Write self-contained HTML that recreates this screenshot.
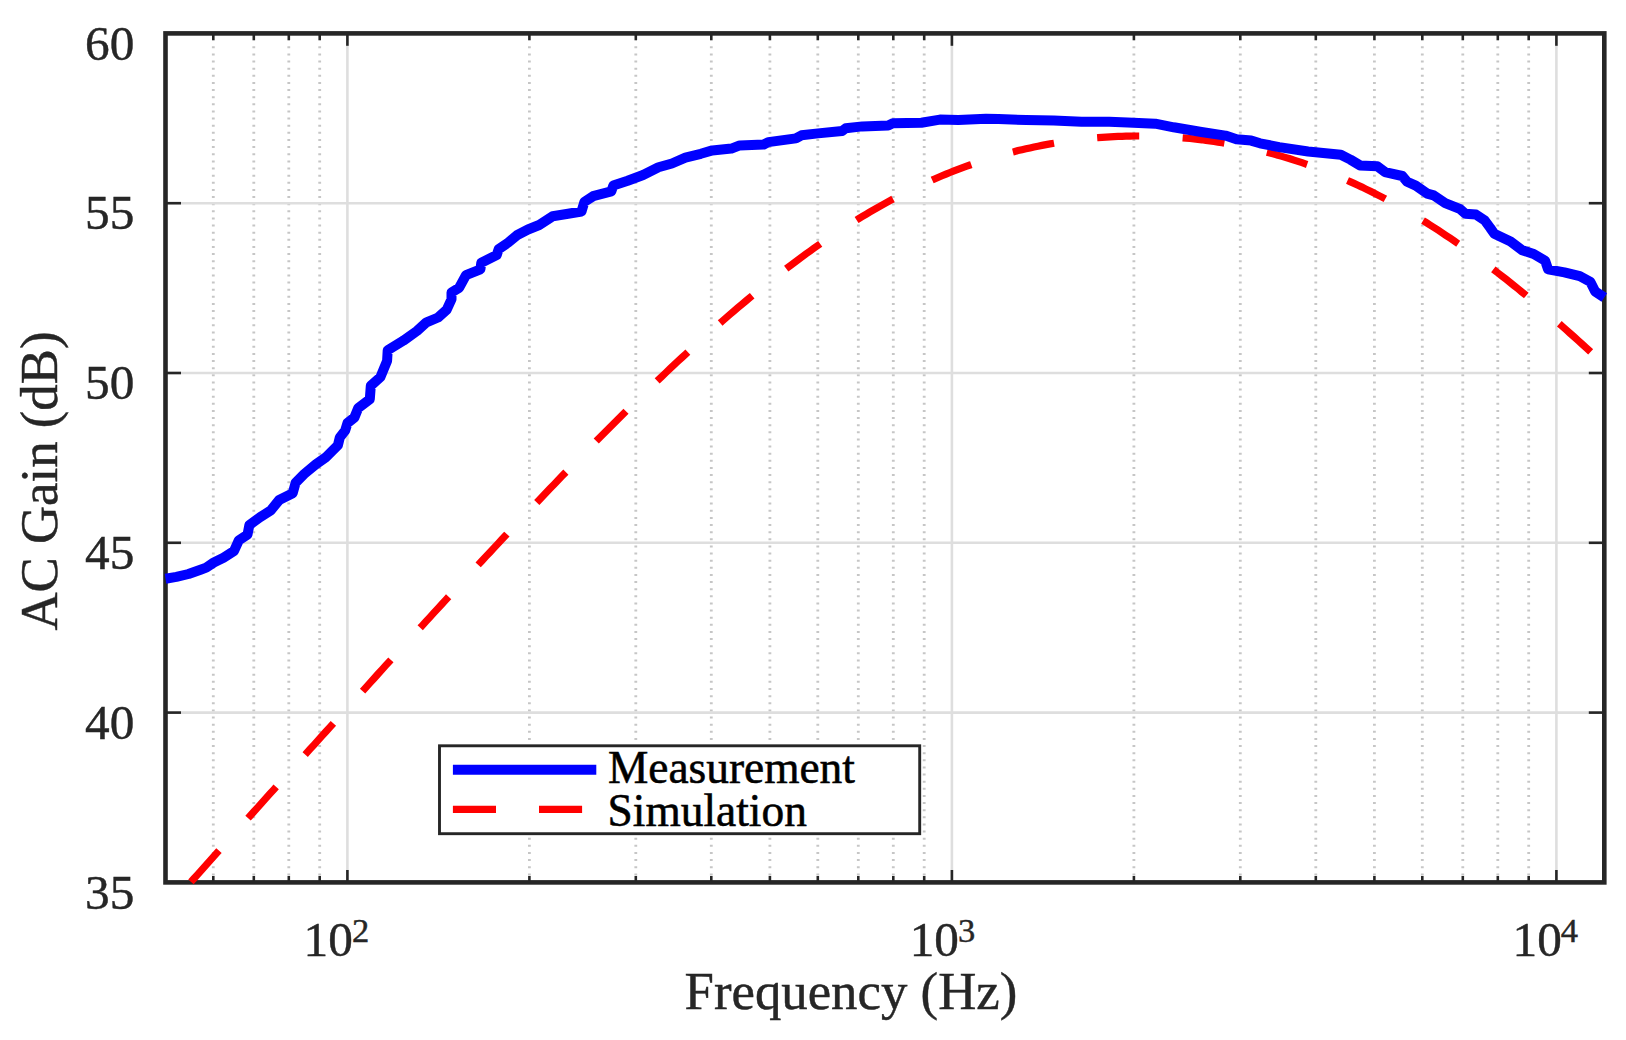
<!DOCTYPE html>
<html lang="en"><head><meta charset="utf-8"><title>AC Gain vs Frequency</title>
<style>html,body{margin:0;padding:0;background:#fff;}body{width:1626px;height:1040px;overflow:hidden;}svg{display:block;}text{font-family:"Liberation Serif","Times New Roman",serif;fill:#262626;stroke:#262626;stroke-width:0.45px;font-kerning:none;}</style></head><body>
<svg width="1626" height="1040" viewBox="0 0 1626 1040">
<rect width="1626" height="1040" fill="#fff"/>
<g stroke="#c6c6c6" stroke-width="2.8" stroke-dasharray="2 5.13" fill="none">
<line x1="213.3" y1="46.3" x2="213.3" y2="880.4"/>
<line x1="253.8" y1="46.3" x2="253.8" y2="880.4"/>
<line x1="288.8" y1="46.3" x2="288.8" y2="880.4"/>
<line x1="319.7" y1="46.3" x2="319.7" y2="880.4"/>
<line x1="529.4" y1="46.3" x2="529.4" y2="880.4"/>
<line x1="635.8" y1="46.3" x2="635.8" y2="880.4"/>
<line x1="711.3" y1="46.3" x2="711.3" y2="880.4"/>
<line x1="769.9" y1="46.3" x2="769.9" y2="880.4"/>
<line x1="817.8" y1="46.3" x2="817.8" y2="880.4"/>
<line x1="858.3" y1="46.3" x2="858.3" y2="880.4"/>
<line x1="893.3" y1="46.3" x2="893.3" y2="880.4"/>
<line x1="924.2" y1="46.3" x2="924.2" y2="880.4"/>
<line x1="1133.9" y1="46.3" x2="1133.9" y2="880.4"/>
<line x1="1240.3" y1="46.3" x2="1240.3" y2="880.4"/>
<line x1="1315.8" y1="46.3" x2="1315.8" y2="880.4"/>
<line x1="1374.4" y1="46.3" x2="1374.4" y2="880.4"/>
<line x1="1422.3" y1="46.3" x2="1422.3" y2="880.4"/>
<line x1="1462.8" y1="46.3" x2="1462.8" y2="880.4"/>
<line x1="1497.8" y1="46.3" x2="1497.8" y2="880.4"/>
<line x1="1528.7" y1="46.3" x2="1528.7" y2="880.4"/>
</g>
<g stroke="#dedede" stroke-width="2.6" fill="none">
<line x1="347.4" y1="33.4" x2="347.4" y2="882.4"/>
<line x1="951.9" y1="33.4" x2="951.9" y2="882.4"/>
<line x1="1556.4" y1="33.4" x2="1556.4" y2="882.4"/>
<line x1="165.5" y1="712.6" x2="1604.3" y2="712.6"/>
<line x1="165.5" y1="542.8" x2="1604.3" y2="542.8"/>
<line x1="165.5" y1="373.0" x2="1604.3" y2="373.0"/>
<line x1="165.5" y1="203.2" x2="1604.3" y2="203.2"/>
</g>
<g stroke="#262626" stroke-width="2.6" fill="none">
<line x1="213.3" y1="882.4" x2="213.3" y2="876.0"/>
<line x1="213.3" y1="33.4" x2="213.3" y2="40.3"/>
<line x1="253.8" y1="882.4" x2="253.8" y2="876.0"/>
<line x1="253.8" y1="33.4" x2="253.8" y2="40.3"/>
<line x1="288.8" y1="882.4" x2="288.8" y2="876.0"/>
<line x1="288.8" y1="33.4" x2="288.8" y2="40.3"/>
<line x1="319.7" y1="882.4" x2="319.7" y2="876.0"/>
<line x1="319.7" y1="33.4" x2="319.7" y2="40.3"/>
<line x1="529.4" y1="882.4" x2="529.4" y2="876.0"/>
<line x1="529.4" y1="33.4" x2="529.4" y2="40.3"/>
<line x1="635.8" y1="882.4" x2="635.8" y2="876.0"/>
<line x1="635.8" y1="33.4" x2="635.8" y2="40.3"/>
<line x1="711.3" y1="882.4" x2="711.3" y2="876.0"/>
<line x1="711.3" y1="33.4" x2="711.3" y2="40.3"/>
<line x1="769.9" y1="882.4" x2="769.9" y2="876.0"/>
<line x1="769.9" y1="33.4" x2="769.9" y2="40.3"/>
<line x1="817.8" y1="882.4" x2="817.8" y2="876.0"/>
<line x1="817.8" y1="33.4" x2="817.8" y2="40.3"/>
<line x1="858.3" y1="882.4" x2="858.3" y2="876.0"/>
<line x1="858.3" y1="33.4" x2="858.3" y2="40.3"/>
<line x1="893.3" y1="882.4" x2="893.3" y2="876.0"/>
<line x1="893.3" y1="33.4" x2="893.3" y2="40.3"/>
<line x1="924.2" y1="882.4" x2="924.2" y2="876.0"/>
<line x1="924.2" y1="33.4" x2="924.2" y2="40.3"/>
<line x1="1133.9" y1="882.4" x2="1133.9" y2="876.0"/>
<line x1="1133.9" y1="33.4" x2="1133.9" y2="40.3"/>
<line x1="1240.3" y1="882.4" x2="1240.3" y2="876.0"/>
<line x1="1240.3" y1="33.4" x2="1240.3" y2="40.3"/>
<line x1="1315.8" y1="882.4" x2="1315.8" y2="876.0"/>
<line x1="1315.8" y1="33.4" x2="1315.8" y2="40.3"/>
<line x1="1374.4" y1="882.4" x2="1374.4" y2="876.0"/>
<line x1="1374.4" y1="33.4" x2="1374.4" y2="40.3"/>
<line x1="1422.3" y1="882.4" x2="1422.3" y2="876.0"/>
<line x1="1422.3" y1="33.4" x2="1422.3" y2="40.3"/>
<line x1="1462.8" y1="882.4" x2="1462.8" y2="876.0"/>
<line x1="1462.8" y1="33.4" x2="1462.8" y2="40.3"/>
<line x1="1497.8" y1="882.4" x2="1497.8" y2="876.0"/>
<line x1="1497.8" y1="33.4" x2="1497.8" y2="40.3"/>
<line x1="1528.7" y1="882.4" x2="1528.7" y2="876.0"/>
<line x1="1528.7" y1="33.4" x2="1528.7" y2="40.3"/>
<line x1="347.4" y1="882.4" x2="347.4" y2="870.0"/>
<line x1="347.4" y1="33.4" x2="347.4" y2="45.8"/>
<line x1="951.9" y1="882.4" x2="951.9" y2="870.0"/>
<line x1="951.9" y1="33.4" x2="951.9" y2="45.8"/>
<line x1="1556.4" y1="882.4" x2="1556.4" y2="870.0"/>
<line x1="1556.4" y1="33.4" x2="1556.4" y2="45.8"/>
<line x1="165.5" y1="712.6" x2="181.0" y2="712.6"/>
<line x1="1604.3" y1="712.6" x2="1588.8" y2="712.6"/>
<line x1="165.5" y1="542.8" x2="181.0" y2="542.8"/>
<line x1="1604.3" y1="542.8" x2="1588.8" y2="542.8"/>
<line x1="165.5" y1="373.0" x2="181.0" y2="373.0"/>
<line x1="1604.3" y1="373.0" x2="1588.8" y2="373.0"/>
<line x1="165.5" y1="203.2" x2="181.0" y2="203.2"/>
<line x1="1604.3" y1="203.2" x2="1588.8" y2="203.2"/>
</g>
<rect x="165.5" y="33.4" width="1438.8" height="849.0" fill="none" stroke="#262626" stroke-width="4.6"/>
<path d="M190.8,882.1 L194.0,878.5 L198.0,874.1 L202.0,869.6 L206.0,865.1 L210.0,860.7 L214.0,856.2 L218.0,851.7 L222.0,847.2 L226.0,842.8 L230.0,838.3 L234.0,833.9 L238.0,829.4 L242.0,824.9 L246.0,820.5 L250.0,816.0 L254.0,811.5 L258.0,807.1 L262.0,802.6 L266.0,798.2 L270.0,793.7 L274.0,789.3 L278.0,784.8 L282.0,780.4 L286.0,775.9 L290.0,771.5 L294.0,767.0 L298.0,762.6 L302.0,758.1 L306.0,753.7 L310.0,749.2 L314.0,744.8 L318.0,740.4 L322.0,735.9 L326.0,731.5 L330.0,727.1 L334.0,722.6 L338.0,718.2 L342.0,713.8 L346.0,709.4 L350.0,704.9 L354.0,700.5 L358.0,696.1 L362.0,691.7 L366.0,687.3 L370.0,682.9 L374.0,678.5 L378.0,674.0 L382.0,669.6 L386.0,665.2 L390.0,660.8 L394.0,656.5 L398.0,652.1 L402.0,647.7 L406.0,643.3 L410.0,638.9 L414.0,634.5 L418.0,630.2 L422.0,625.8 L426.0,621.4 L430.0,617.1 L434.0,612.7 L438.0,608.3 L442.0,604.0 L446.0,599.6 L450.0,595.3 L454.0,591.0 L458.0,586.6 L462.0,582.3 L466.0,578.0 L470.0,573.7 L474.0,569.4 L478.0,565.0 L482.0,560.7 L486.0,556.4 L490.0,552.2 L494.0,547.9 L498.0,543.6 L502.0,539.3 L506.0,535.1 L510.0,530.8 L514.0,526.5 L518.0,522.3 L522.0,518.1 L526.0,513.8 L530.0,509.6 L534.0,505.4 L538.0,501.2 L542.0,497.0 L546.0,492.8 L550.0,488.6 L554.0,484.5 L558.0,480.3 L562.0,476.1 L566.0,472.0 L570.0,467.9 L574.0,463.7 L578.0,459.6 L582.0,455.5 L586.0,451.4 L590.0,447.4 L594.0,443.3 L598.0,439.2 L602.0,435.2 L606.0,431.2 L610.0,427.2 L614.0,423.2 L618.0,419.2 L622.0,415.2 L626.0,411.2 L630.0,407.3 L634.0,403.3 L638.0,399.4 L642.0,395.5 L646.0,391.6 L650.0,387.8 L654.0,383.9 L658.0,380.1 L662.0,376.3 L666.0,372.5 L670.0,368.7 L674.0,364.9 L678.0,361.2 L682.0,357.5 L686.0,353.8 L690.0,350.1 L694.0,346.4 L698.0,342.8 L702.0,339.1 L706.0,335.5 L710.0,332.0 L714.0,328.4 L718.0,324.9 L722.0,321.4 L726.0,317.9 L730.0,314.4 L734.0,311.0 L738.0,307.6 L742.0,304.2 L746.0,300.9 L750.0,297.5 L754.0,294.2 L758.0,291.0 L762.0,287.7 L766.0,284.5 L770.0,281.3 L774.0,278.1 L778.0,275.0 L782.0,271.9 L786.0,268.8 L790.0,265.8 L794.0,262.8 L798.0,259.8 L802.0,256.9 L806.0,253.9 L810.0,251.1 L814.0,248.2 L818.0,245.4 L822.0,242.6 L826.0,239.9 L830.0,237.1 L834.0,234.5 L838.0,231.8 L842.0,229.2 L846.0,226.6 L850.0,224.1 L854.0,221.6 L858.0,219.1 L862.0,216.7 L866.0,214.3 L870.0,211.9 L874.0,209.6 L878.0,207.3 L882.0,205.1 L886.0,202.9 L890.0,200.7 L894.0,198.5 L898.0,196.4 L902.0,194.4 L906.0,192.3 L910.0,190.4 L914.0,188.4 L918.0,186.5 L922.0,184.6 L926.0,182.8 L930.0,181.0 L934.0,179.2 L938.0,177.5 L942.0,175.8 L946.0,174.1 L950.0,172.5 L954.0,170.9 L958.0,169.4 L962.0,167.9 L966.0,166.4 L970.0,165.0 L974.0,163.6 L978.0,162.3 L982.0,160.9 L986.0,159.6 L990.0,158.4 L994.0,157.2 L998.0,156.0 L1002.0,154.9 L1006.0,153.8 L1010.0,152.7 L1014.0,151.7 L1018.0,150.6 L1022.0,149.7 L1026.0,148.8 L1030.0,147.9 L1034.0,147.0 L1038.0,146.2 L1042.0,145.4 L1046.0,144.6 L1050.0,143.9 L1054.0,143.2 L1058.0,142.5 L1062.0,141.9 L1066.0,141.3 L1070.0,140.7 L1074.0,140.2 L1078.0,139.7 L1082.0,139.2 L1086.0,138.8 L1090.0,138.4 L1094.0,138.0 L1098.0,137.7 L1102.0,137.4 L1106.0,137.1 L1110.0,136.8 L1114.0,136.6 L1118.0,136.4 L1122.0,136.3 L1126.0,136.2 L1130.0,136.1 L1134.0,136.0 L1138.0,136.0 L1142.0,136.0 L1146.0,136.0 L1150.0,136.1 L1154.0,136.2 L1158.0,136.3 L1162.0,136.5 L1166.0,136.7 L1170.0,136.9 L1174.0,137.2 L1178.0,137.5 L1182.0,137.8 L1186.0,138.1 L1190.0,138.5 L1194.0,138.9 L1198.0,139.4 L1202.0,139.8 L1206.0,140.4 L1210.0,140.9 L1214.0,141.5 L1218.0,142.1 L1222.0,142.7 L1226.0,143.4 L1230.0,144.1 L1234.0,144.9 L1238.0,145.6 L1242.0,146.4 L1246.0,147.3 L1250.0,148.2 L1254.0,149.1 L1258.0,150.0 L1262.0,151.0 L1266.0,152.0 L1270.0,153.0 L1274.0,154.1 L1278.0,155.3 L1282.0,156.4 L1286.0,157.6 L1290.0,158.8 L1294.0,160.1 L1298.0,161.4 L1302.0,162.7 L1306.0,164.1 L1310.0,165.5 L1314.0,166.9 L1318.0,168.4 L1322.0,169.9 L1326.0,171.5 L1330.0,173.1 L1334.0,174.7 L1338.0,176.4 L1342.0,178.1 L1346.0,179.8 L1350.0,181.6 L1354.0,183.4 L1358.0,185.3 L1362.0,187.1 L1366.0,189.1 L1370.0,191.0 L1374.0,193.0 L1378.0,195.1 L1382.0,197.1 L1386.0,199.3 L1390.0,201.4 L1394.0,203.6 L1398.0,205.8 L1402.0,208.1 L1406.0,210.4 L1410.0,212.7 L1414.0,215.1 L1418.0,217.5 L1422.0,220.0 L1426.0,222.4 L1430.0,225.0 L1434.0,227.5 L1438.0,230.1 L1442.0,232.7 L1446.0,235.4 L1450.0,238.1 L1454.0,240.8 L1458.0,243.6 L1462.0,246.3 L1466.0,249.2 L1470.0,252.0 L1474.0,254.9 L1478.0,257.9 L1482.0,260.8 L1486.0,263.8 L1490.0,266.8 L1494.0,269.9 L1498.0,273.0 L1502.0,276.1 L1506.0,279.2 L1510.0,282.4 L1514.0,285.6 L1518.0,288.8 L1522.0,292.1 L1526.0,295.3 L1530.0,298.7 L1534.0,302.0 L1538.0,305.4 L1542.0,308.8 L1546.0,312.2 L1550.0,315.6 L1554.0,319.1 L1558.0,322.6 L1562.0,326.1 L1566.0,329.6 L1570.0,333.2 L1574.0,336.8 L1578.0,340.4 L1582.0,344.0 L1586.0,347.7 L1590.0,351.3 L1594.0,355.0 L1598.0,358.7 L1602.0,362.5 L1604.3,364.6" fill="none" stroke="#ff0000" stroke-width="7.2" stroke-dasharray="42.1 43.47" stroke-dashoffset="-0.2"/>
<path d="M165.5,578.7 L176.4,576.9 L188.5,574.0 L200.5,569.7 L206.2,567.6 L213.8,562.5 L223.5,557.7 L234.0,551.0 L238.8,540.4 L247.5,534.6 L249.4,525.0 L260.0,517.3 L270.6,510.6 L279.2,500.0 L292.7,493.3 L295.6,482.7 L304.2,474.0 L315.8,464.4 L325.4,457.7 L337.9,445.2 L339.8,437.5 L345.2,430.5 L347.5,423.0 L354.4,417.5 L358.3,407.9 L369.8,399.2 L370.8,385.8 L380.4,377.1 L387.1,360.8 L387.7,350.2 L403.5,340.6 L416.9,331.0 L426.5,322.3 L438.1,317.5 L446.7,309.8 L451.5,299.2 L451.5,292.5 L459.2,287.7 L466.0,275.2 L480.4,269.4 L481.3,262.7 L496.7,255.0 L498.7,249.2 L508.3,242.5 L516.9,235.3 L528.0,229.5 L539.2,225.0 L552.7,216.3 L568.1,213.8 L581.5,211.5 L584.4,201.9 L593.1,196.2 L611.3,191.3 L613.3,185.6 L627.7,180.8 L643.1,175.0 L658.5,167.3 L671.9,163.5 L685.4,157.7 L700.8,153.8 L712.3,150.4 L731.4,148.6 L739.7,145.4 L763.7,144.5 L768.3,142.1 L795.9,138.4 L801.5,135.3 L818.1,133.4 L842.1,131.0 L845.8,128.3 L862.4,126.4 L888.2,125.5 L892.8,123.3 L921.4,122.7 L939.9,119.6 L958.3,120.0 L986.0,118.7 L998.5,119.0 L1026.1,120.0 L1053.8,120.5 L1081.5,121.8 L1109.2,121.8 L1127.6,122.4 L1155.3,123.7 L1173.7,127.3 L1201.4,132.0 L1225.4,135.6 L1236.5,139.3 L1251.2,140.6 L1260.0,143.3 L1279.2,147.1 L1308.1,151.5 L1340.8,154.8 L1350.4,159.6 L1360.0,165.4 L1377.3,166.3 L1385.0,172.1 L1402.3,176.0 L1407.1,181.7 L1415.8,185.6 L1427.3,193.6 L1433.7,195.4 L1445.2,203.1 L1459.7,208.8 L1465.4,213.7 L1476.0,214.6 L1484.7,220.4 L1490.4,228.1 L1494.3,233.8 L1510.6,241.5 L1522.2,250.2 L1533.7,254.0 L1545.2,260.8 L1548.1,269.4 L1564.4,272.3 L1579.8,276.2 L1590.4,281.9 L1595.2,291.5 L1604.3,297.5" fill="none" stroke="#0000ff" stroke-width="10" stroke-linejoin="round"/>
<rect x="439.5" y="745.8" width="480.2" height="87.9" fill="#fff" stroke="#262626" stroke-width="2.9"/>
<line x1="452.9" y1="769.7" x2="596.3" y2="769.7" stroke="#0000ff" stroke-width="10"/>
<line x1="452.9" y1="809.4" x2="596.3" y2="809.4" stroke="#ff0000" stroke-width="7.2" stroke-dasharray="43.1 43"/>
<text x="607.9" y="782.8" font-size="45.4" style="fill:#000;stroke:#000;stroke-width:0.55px">Measurement</text>
<text x="607.6" y="826.3" font-size="45.4" style="fill:#000;stroke:#000;stroke-width:0.55px">Simulation</text>
<text x="134.3" y="908.6" font-size="49.3" text-anchor="end">35</text>
<text x="134.3" y="738.8" font-size="49.3" text-anchor="end">40</text>
<text x="134.3" y="569.0" font-size="49.3" text-anchor="end">45</text>
<text x="134.3" y="399.2" font-size="49.3" text-anchor="end">50</text>
<text x="134.3" y="229.4" font-size="49.3" text-anchor="end">55</text>
<text x="134.3" y="59.6" font-size="49.3" text-anchor="end">60</text>
<text x="303.6" y="955.9" font-size="49.3">10<tspan dx="-1" dy="-14" font-size="34.5">2</tspan></text>
<text x="909.7" y="955.9" font-size="49.3">10<tspan dx="-1" dy="-14" font-size="34.5">3</tspan></text>
<text x="1512.5" y="955.9" font-size="49.3">10<tspan dx="-1" dy="-14" font-size="34.5">4</tspan></text>
<text x="850.9" y="1008.9" font-size="52.8" text-anchor="middle">Frequency (Hz)</text>
<text transform="translate(57.3,481) rotate(-90)" font-size="52.8" text-anchor="middle">AC Gain (dB)</text>
</svg></body></html>
